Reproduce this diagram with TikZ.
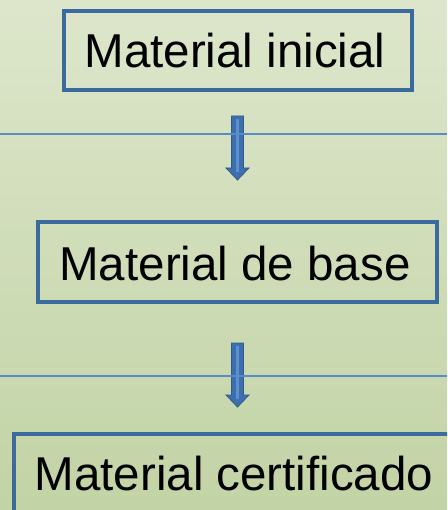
\documentclass[tikz,border=0pt]{standalone}
\usepackage{fontspec}
\setmainfont{Liberation Sans}
\definecolor{bgtop}{HTML}{DDE6CB}
\definecolor{bgbot}{HTML}{C2D3A5}
\definecolor{boxblue}{HTML}{3B6A9F}
\definecolor{lineblue}{HTML}{5B8BC6}
\definecolor{arrowfill}{HTML}{3E6FAD}
\definecolor{arrowdark}{HTML}{2F5A8E}
\definecolor{arrowlight}{HTML}{5E8FCF}
\tikzset{
  box/.style={draw=boxblue, line width=3.3pt, rectangle, inner sep=0pt},
  lbl/.style={font=\fontsize{47.5}{57}\selectfont, text height=34pt, text depth=0pt, inner sep=0pt},
  hline/.style={draw=lineblue, line width=1.3pt},
  blockarrow/.style={fill=arrowfill, draw=arrowdark, line width=0.8pt, line join=miter},
  stripe/.style={draw=arrowlight, line width=2.5pt}
}
\begin{document}
\begin{tikzpicture}[x=1pt,y=-1pt]
\useasboundingbox (0,0) rectangle (447,510);
\clip (0,0) rectangle (447,510);
\shade[top color=bgtop, bottom color=bgbot] (0,0) rectangle (447,510);
% horizontal line end points
\coordinate (l1a) at (0,134); \coordinate (l1b) at (447,134);
\coordinate (l2a) at (0,376); \coordinate (l2b) at (447,376);
% boxes
\node[box, minimum width=348pt, minimum height=79pt] (b1) at (238,50.5) {};
\node[box, minimum width=399pt, minimum height=80pt] (b2) at (237.5,262) {};
\node[box, minimum width=456pt, minimum height=100pt] (b3) at (242,484) {};
\node[lbl] (t1) at (235,50.5) {Material inicial};
\node[lbl] (t2) at (235,263) {Material de base};
\node[lbl] (t3) at (234,473.5) {Material certificado};
% arrows
\coordinate (a1) at (237.5,116);
\coordinate (a2) at (237.5,343);
\foreach \a in {a1,a2}{
  \draw[blockarrow] ([xshift=-6pt]\a) -- ([xshift=6pt]\a) -- ([xshift=6pt,yshift=-52pt]\a) -- ([xshift=11.5pt,yshift=-52pt]\a) -- ([yshift=-64pt]\a) -- ([xshift=-11.5pt,yshift=-52pt]\a) -- ([xshift=-6pt,yshift=-52pt]\a) -- cycle;
  \draw[stripe] ([yshift=-3pt]\a) -- ([yshift=-56pt]\a);
}
% horizontal lines over the arrows
\draw[hline] (l1a) -- (l1b);
\draw[hline] (l2a) -- (l2b);
\end{tikzpicture}
\end{document}
